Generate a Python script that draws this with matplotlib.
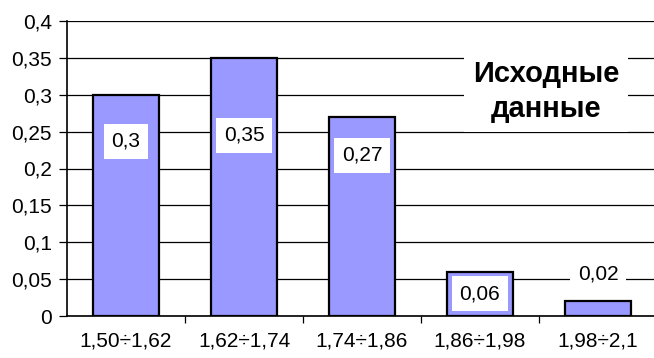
import matplotlib
matplotlib.use("Agg")
from matplotlib import pyplot as plt
from matplotlib.ticker import FixedLocator, FuncFormatter

plt.rcParams['font.family'] = ['Liberation Sans', 'DejaVu Sans']

# интервалы роста и относительные частоты
intervals = ["1,50÷1,62", "1,62÷1,74", "1,74÷1,86", "1,86÷1,98", "1,98÷2,1"]
freqs = [0.3, 0.35, 0.27, 0.06, 0.02]
y_ticks = [0, 0.05, 0.1, 0.15, 0.2, 0.25, 0.3, 0.35, 0.4]


def comma(v, pos=None):
    s = ("%.2f" % v).rstrip("0").rstrip(".")
    return s.replace(".", ",")


fig = plt.figure(figsize=(6.54, 3.58), dpi=100)
ax = fig.add_axes([67 / 654, 42 / 358, 590 / 654, 295 / 358])

x = list(range(len(freqs)))
ax.bar(x, freqs, width=0.56, color="#9999FF", edgecolor="black",
       linewidth=1.6, zorder=3)

ax.set_xlim(-0.5, len(freqs) - 0.5)
ax.set_ylim(0, 0.4)
ax.yaxis.set_major_locator(FixedLocator(y_ticks))
ax.yaxis.set_major_formatter(FuncFormatter(comma))
ax.grid(axis="y", color="black", linewidth=0.9, zorder=0)

# деления оси X между столбцами, подписи по центру
ax.set_xticks([i + 0.5 for i in x[:-1]])
ax.set_xticklabels([])
ax.set_xticks(x, minor=True)
ax.set_xticklabels(intervals, minor=True)
ax.tick_params(axis="x", which="minor", length=0, pad=11, labelsize=15)
ax.tick_params(axis="x", which="major", length=5, width=0.9, direction="out")
ax.tick_params(axis="y", length=6, width=0.9, pad=5, labelsize=15)

for side in ("top", "right"):
    ax.spines[side].set_visible(False)
ax.spines["left"].set_linewidth(1.2)
ax.spines["bottom"].set_linewidth(1.2)
ax.spines["left"].set_zorder(4)
ax.spines["bottom"].set_zorder(4)

# подписи значений в белых рамках
label_y = [0.237, 0.245, 0.218, 0.03, 0.057]
for xi, v, ly in zip(x, freqs, label_y):
    ax.text(xi, ly, comma(v), ha="center", va="center", fontsize=15,
            zorder=5,
            bbox=dict(boxstyle="square,pad=0.38", facecolor="white",
                      edgecolor="none"))

ax.text(3.56, 0.304, "Исходные\nданные", ha="center", va="center",
        fontsize=21, fontweight="bold", linespacing=1.3, zorder=5,
        bbox=dict(boxstyle="square,pad=0.3", facecolor="white",
                  edgecolor="none"))

fig.savefig("out.png", dpi=100)
